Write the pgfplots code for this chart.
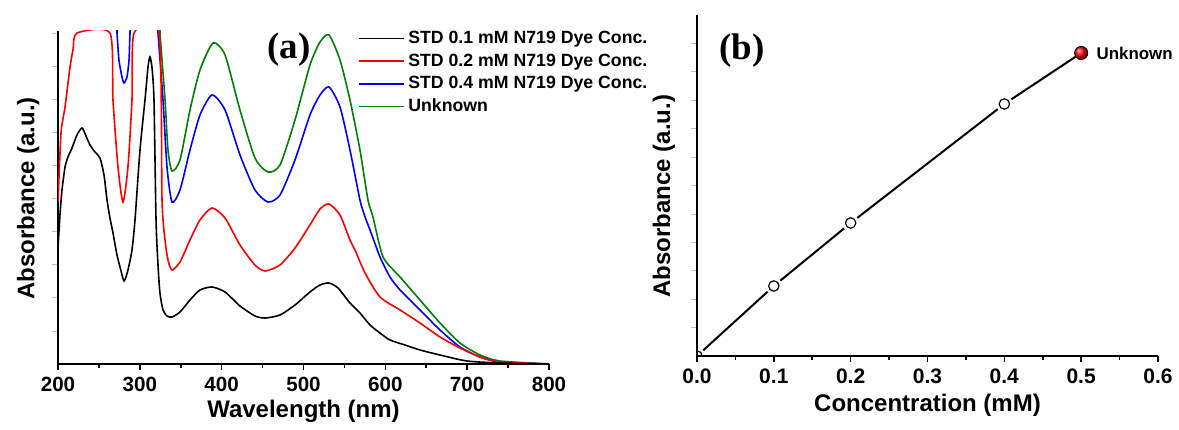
\documentclass[border=0pt]{standalone}
\usepackage{fontspec}
\setmainfont{Liberation Sans}
\newfontfamily\serifb{Liberation Serif}
\usepackage{pgfplots}
\pgfplotsset{compat=1.18}
\usetikzlibrary{plotmarks}
\definecolor{dgreen}{RGB}{0,128,0}

\pgfplotstableread{
x y
200 1.16
202.4 1.49
204.9 1.74
208.6 1.97
212.2 2.07
217.1 2.16
223.2 2.29
229.3 2.36
234.2 2.28
239.1 2.19
245.2 2.12
251.3 2.06
256.2 1.89
259.9 1.64
263.5 1.46
267.2 1.31
272.1 1.09
275.8 0.97
280.7 0.83
285.5 0.94
290.4 1.14
294.1 1.44
300.2 2.14
306.3 2.64
310.0 2.97
312.4 3.07
314.9 2.96
317.3 2.64
319.8 1.44
322.2 0.99
324.6 0.71
328.3 0.54
333.2 0.48
339.3 0.47
349.1 0.52
361.3 0.64
373.5 0.74
388.2 0.77
404.1 0.72
422.4 0.58
440.7 0.48
453.0 0.46
471.3 0.49
489.6 0.59
507.9 0.72
520.2 0.79
531.2 0.81
542.2 0.76
556.8 0.61
569.0 0.51
581.3 0.39
593.5 0.31
605.7 0.24
624.0 0.19
642.4 0.14
666.8 0.09
699.8 0.03
740.1 0.01
800 0.00
}\stdA

\pgfplotstableread{
x y
200 1.62
203.7 2.31
208.6 2.57
214.7 2.97
218.3 3.14
223.2 3.31
263.5 3.31
267.2 2.64
273.3 1.97
279.4 1.62
285.5 1.97
290.4 2.64
292.9 3.31
323.4 3.31
327.1 1.64
330.8 1.24
334.4 1.04
339.3 0.94
349.1 1.02
361.3 1.24
373.5 1.44
388.2 1.56
404.1 1.46
422.4 1.19
440.7 0.99
453.0 0.93
471.3 0.99
489.6 1.16
507.9 1.39
520.2 1.55
531.2 1.60
544.6 1.49
556.8 1.24
562.9 1.14
575.2 0.91
593.5 0.67
618.0 0.54
642.4 0.41
666.8 0.27
691.2 0.16
715.7 0.07
740.1 0.02
800 0.00
}\stdB

\pgfplotstableread{
x y
200 2.77
202.4 3.60
269.5 3.60
272.1 3.31
274.5 3.04
278.2 2.87
280.7 2.81
284.3 2.87
286.8 3.04
288.0 3.31
290.5 3.60
320.0 3.60
322.2 3.31
328.3 2.64
333.2 1.97
339.3 1.62
349.1 1.74
361.3 2.14
373.5 2.49
388.2 2.69
404.1 2.54
422.4 2.09
440.7 1.74
456.6 1.62
471.3 1.69
489.6 2.04
507.9 2.49
520.2 2.69
531.2 2.77
544.6 2.57
556.8 2.14
569.0 1.64
575.2 1.47
581.3 1.34
593.5 1.07
605.7 0.87
618.0 0.74
642.4 0.54
666.8 0.34
691.2 0.17
715.7 0.07
740.1 0.02
800 0.00
}\stdC

\pgfplotstableread{
x y
200 3.60
322.0 3.60
324.6 3.31
330.8 2.64
334.4 2.14
339.3 1.93
349.1 2.04
361.3 2.54
373.5 2.94
389.4 3.21
404.1 3.09
422.4 2.54
440.7 2.06
456.6 1.92
471.3 1.99
489.6 2.44
507.9 2.99
520.2 3.22
531.2 3.29
544.6 3.04
556.8 2.64
569.0 2.14
578.8 1.64
584.9 1.47
597.2 1.07
618.0 0.87
642.4 0.64
666.8 0.41
691.2 0.21
715.7 0.09
740.1 0.03
800 0.00
}\unk

\pgfplotstableread{
x y
0.0 0.00
0.1 0.70
0.2 1.33
0.4 2.52
}\calib

\begin{document}
\begin{tikzpicture}[x=1pt,y=1pt]
\useasboundingbox (0,0) rectangle (589.5,214.5);
\begin{axis}[
  at={(29pt,32.5pt)}, anchor=south west,
  scale only axis, width=245.5pt, height=166.5pt,
  xmin=200, xmax=800, ymin=0, ymax=3.33,
  axis x line*=bottom, axis y line*=left,
  axis line style={-, line width=0.9pt},
  xtick={200,300,400,500,600,700,800}, minor x tick num=1,
  ytick={0.331,0.662,0.993,1.324,1.655,1.986,2.317,2.648,2.979,3.31}, yticklabels={},
  y tick style={black!25, line width=0.3pt},
  tick align=outside, x tick style={black, line width=0.8pt},
  major tick length=3pt, minor tick length=2pt,
  ticklabel style={font=\bfseries\fontsize{10.3}{12}\selectfont},
  /pgf/number format/assume math mode=true,
  xlabel={Wavelength (nm)}, ylabel={Absorbance (a.u.)},
  label style={font=\bfseries\fontsize{12}{14}\selectfont},
  xlabel style={at={(axis description cs:0.5,-0.1411)}, anchor=center},
  ylabel style={at={(axis description cs:-0.061,0.497)}, anchor=center},
  clip=true,
  legend cell align=left,
  legend image code/.code={\draw[#1] (0pt,0pt) -- (22.5pt,0pt);},
  legend style={at={(rel axis cs:0.611,1.0128)}, anchor=north west, draw=none, fill=none,
    font=\bfseries\fontsize{8.85}{10.5}\selectfont, row sep=0pt, inner sep=0pt,
    nodes={text height=6.5pt, text depth=1.5pt, inner sep=1.675pt}},
]
\addplot[dgreen, line width=0.8pt, smooth, tension=0.4, forget plot] table {\unk};
\addplot[blue, line width=0.8pt, smooth, tension=0.4, forget plot] table {\stdC};
\addplot[red, line width=0.8pt, smooth, tension=0.4, forget plot] table {\stdB};
\addplot[black, line width=0.8pt, smooth, tension=0.4, forget plot] table {\stdA};
\addlegendimage{black, line width=0.8pt}
\addlegendentry{STD 0.1 mM N719 Dye Conc.}
\addlegendimage{red, line width=0.8pt}
\addlegendentry{STD 0.2 mM N719 Dye Conc.}
\addlegendimage{blue, line width=0.8pt}
\addlegendentry{STD 0.4 mM N719 Dye Conc.}
\addlegendimage{dgreen, line width=0.8pt}
\addlegendentry{Unknown}
\node[font=\serifb\bfseries\fontsize{18.5}{20}\selectfont] at (rel axis cs:0.470,0.9433) {(a)};
\end{axis}

\begin{axis}[
  at={(348.5pt,36.5pt)}, anchor=south west,
  scale only axis, width=230.5pt, height=170.5pt,
  xmin=0, xmax=0.6, ymin=0, ymax=3.41,
  axis x line*=bottom, axis y line*=left,
  axis line style={-, line width=0.8pt},
  axis on top, clip mode=individual, clip marker paths=true,
  xtick={0,0.1,0.2,0.3,0.4,0.5,0.6}, minor x tick num=1,
  ytick={0.2842,0.5684,0.8526,1.1368,1.421,1.7052,1.9894,2.2736,2.5578,2.842,3.1262}, yticklabels={},
  y tick style={black!25, line width=0.3pt},
  tick align=outside, x tick style={black, line width=0.8pt},
  major tick length=3pt, minor tick length=2pt,
  xticklabel={\pgfmathprintnumber[fixed,fixed zerofill,precision=1]{\tick}},
  ticklabel style={font=\bfseries\fontsize{10.5}{12}\selectfont},
  /pgf/number format/assume math mode=true,
  xlabel={Concentration (mM)}, ylabel={Absorbance (a.u.)},
  label style={font=\bfseries\fontsize{12}{14}\selectfont},
  xlabel style={at={(axis description cs:0.5,-0.144)}, anchor=center},
  ylabel style={at={(axis description cs:-0.0716,0.469)}, anchor=center},
]
\addplot[black, line width=1pt] coordinates {(0,0) (0.1,0.70) (0.2,1.33) (0.4,2.52) (0.5,3.03)};
\addplot[only marks, mark=*, mark size=4pt, mark options={fill=white, draw=white}] table {\calib};
\addplot[only marks, mark=*, mark size=2.6pt, mark options={fill=white, draw=black, line width=0.6pt}] table {\calib};
\addplot[only marks, mark=ball, mark size=3.3pt, mark options={ball color=red}] coordinates {(0.5,3.03)};
\node[anchor=west, xshift=4.2pt, font=\bfseries\fontsize{8.45}{10}\selectfont] at (axis cs:0.5,3.03) {Unknown};
\node[font=\serifb\bfseries\fontsize{18.5}{20}\selectfont] at (rel axis cs:0.0976,0.897) {(b)};
\end{axis}
\end{tikzpicture}
\end{document}
